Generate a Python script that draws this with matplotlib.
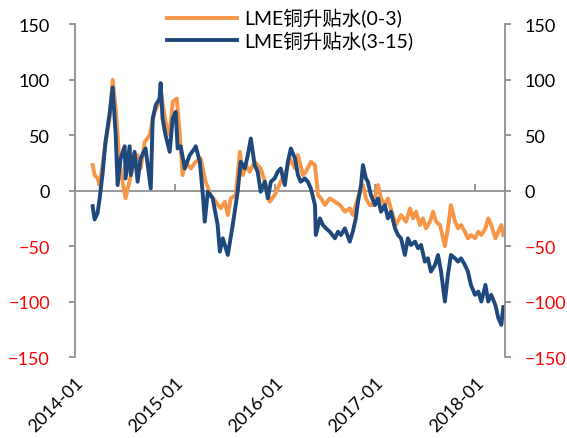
import pandas as pd
import matplotlib
matplotlib.use('Agg')
import matplotlib.pyplot as plt
import matplotlib.dates as mdates

plt.rcParams['font.family'] = ['Lato', 'Noto Sans CJK SC', 'DejaVu Sans']

# LME铜升贴水(0-3)
dates_03 = ['2014-03-07', '2014-03-14', '2014-03-25', '2014-04-01', '2014-04-12', '2014-04-23',
            '2014-05-08', '2014-05-19', '2014-05-30', '2014-06-13', '2014-06-24', '2014-07-05',
            '2014-07-13', '2014-07-31', '2014-08-18', '2014-08-29', '2014-09-13', '2014-10-01',
            '2014-10-19', '2014-11-06', '2014-11-10', '2014-11-28', '2014-12-13', '2014-12-24',
            '2015-01-08', '2015-01-19', '2015-01-29', '2015-02-09', '2015-02-28', '2015-03-18',
            '2015-04-05', '2015-04-23', '2015-05-12', '2015-05-30', '2015-06-17', '2015-07-02',
            '2015-07-13', '2015-07-24', '2015-08-11', '2015-08-26', '2015-09-06', '2015-09-17',
            '2015-10-01', '2015-10-19', '2015-11-10', '2015-11-29', '2015-12-13', '2015-12-31',
            '2016-01-22', '2016-02-10', '2016-02-24', '2016-03-14', '2016-03-25', '2016-04-12',
            '2016-04-23', '2016-05-11', '2016-05-26', '2016-06-06', '2016-06-17', '2016-07-01',
            '2016-07-19', '2016-08-07', '2016-08-25', '2016-09-12', '2016-09-30', '2016-10-11',
            '2016-10-22', '2016-11-06', '2016-11-17', '2016-11-28', '2016-12-12', '2016-12-23',
            '2017-01-11', '2017-01-22', '2017-02-05', '2017-02-16', '2017-03-06', '2017-03-17',
            '2017-04-05', '2017-04-23', '2017-05-08', '2017-05-19', '2017-05-30', '2017-06-13',
            '2017-06-24', '2017-07-05', '2017-07-20', '2017-07-31', '2017-08-11', '2017-08-25',
            '2017-09-12', '2017-09-23', '2017-10-04', '2017-10-19', '2017-10-30', '2017-11-10',
            '2017-11-24', '2017-12-05', '2017-12-16', '2017-12-31', '2018-01-12', '2018-01-23',
            '2018-02-07', '2018-02-17', '2018-02-28', '2018-03-15', '2018-03-26', '2018-04-06',
            '2018-04-13']
vals_03 = [23, 14, 11, 5, 23, 44,
           65, 100, 74, 26, 8, -7,
           2, 20, 32, 20, 44, 50,
           71, 80, 90, 62, 50, 80,
           83, 50, 14, 26, 20, 26,
           29, 8, -4, -10, -16, -10,
           -22, -7, -4, 35, 14, 23,
           17, 26, 20, 5, -10, -4,
           8, 17, 29, 20, 32, 14,
           17, 26, 23, -4, -7, -13,
           -7, -10, -13, -19, -16, -22,
           -13, -1, 5, -7, -13, -13,
           5, -7, -13, -7, -22, -31,
           -22, -28, -16, -25, -19, -31,
           -25, -34, -28, -19, -28, -31,
           -50, -34, -13, -28, -34, -31,
           -37, -43, -40, -43, -37, -40,
           -34, -25, -31, -43, -37, -31,
           -40]

# LME铜升贴水(3-15)
dates_315 = ['2014-03-07', '2014-03-14', '2014-03-25', '2014-04-01', '2014-04-12', '2014-04-23',
             '2014-05-08', '2014-05-19', '2014-05-30', '2014-06-06', '2014-06-17', '2014-07-02',
             '2014-07-05', '2014-07-20', '2014-07-24', '2014-08-07', '2014-08-18', '2014-08-29',
             '2014-09-16', '2014-10-05', '2014-10-12', '2014-10-23', '2014-11-06', '2014-11-10',
             '2014-11-17', '2014-11-28', '2014-12-13', '2014-12-24', '2015-01-04', '2015-01-11',
             '2015-01-22', '2015-02-06', '2015-02-24', '2015-03-14', '2015-03-18', '2015-04-02',
             '2015-04-13', '2015-04-20', '2015-05-01', '2015-05-19', '2015-06-06', '2015-06-14',
             '2015-06-25', '2015-07-13', '2015-07-31', '2015-08-18', '2015-08-29', '2015-09-13',
             '2015-09-24', '2015-10-05', '2015-10-19', '2015-10-30', '2015-11-10', '2015-11-25',
             '2015-12-06', '2015-12-17', '2015-12-31', '2016-01-11', '2016-01-22', '2016-02-06',
             '2016-02-17', '2016-02-28', '2016-03-14', '2016-03-25', '2016-04-04', '2016-04-19',
             '2016-04-30', '2016-05-11', '2016-05-26', '2016-05-29', '2016-06-13', '2016-06-24',
             '2016-07-05', '2016-07-19', '2016-08-07', '2016-08-18', '2016-08-29', '2016-09-12',
             '2016-09-30', '2016-10-11', '2016-10-22', '2016-10-30', '2016-11-10', '2016-11-17',
             '2016-11-28', '2016-12-05', '2016-12-16', '2016-12-31', '2017-01-11', '2017-01-22',
             '2017-02-05', '2017-02-16', '2017-02-27', '2017-03-14', '2017-03-25', '2017-04-05',
             '2017-04-19', '2017-04-30', '2017-05-11', '2017-05-26', '2017-06-06', '2017-06-17',
             '2017-07-01', '2017-07-12', '2017-07-23', '2017-08-07', '2017-08-18', '2017-08-29',
             '2017-09-12', '2017-09-23', '2017-10-04', '2017-10-19', '2017-10-30', '2017-11-10',
             '2017-11-24', '2017-12-05', '2017-12-16', '2017-12-31', '2018-01-12', '2018-01-23',
             '2018-02-07', '2018-02-17', '2018-02-28', '2018-03-15', '2018-03-26', '2018-04-06',
             '2018-04-13']
vals_315 = [-14, -26, -20, -8, 15, 44,
            70, 93, 50, 5, 29, 40,
            11, 40, 14, 35, 8, 29,
            38, 2, 65, 77, 83, 97,
            65, 50, 35, 65, 71, 38,
            40, 20, 32, 38, 40, 26,
            -4, -28, -1, -7, -31, -55,
            -43, -58, -31, -1, 26, 20,
            32, 47, 23, 17, -1, 8,
            -7, 8, 11, 17, 20, 5,
            26, 38, 29, 14, 8, 11,
            8, 2, -13, -40, -25, -31,
            -34, -37, -43, -37, -40, -34,
            -46, -37, -25, -10, 5, 23,
            11, 8, -4, -13, -7, -19,
            -13, -25, -19, -34, -40, -43,
            -58, -43, -49, -46, -52, -49,
            -64, -61, -73, -67, -58, -73,
            -100, -76, -58, -61, -64, -61,
            -67, -73, -85, -94, -91, -100,
            -85, -100, -94, -103, -115, -121,
            -105]

yticks = [-150, -100, -50, 0, 50, 100, 150]
xticks = ['2014-01-01', '2015-01-01', '2016-01-01', '2017-01-01', '2018-01-01']

d03 = pd.to_datetime(dates_03)
d315 = pd.to_datetime(dates_315)
xt = pd.to_datetime(xticks)

fig = plt.figure(figsize=(5.67, 4.39), dpi=100)
ax = fig.add_axes([0.132, 0.1845, 0.759, 0.758])

ax.plot(d03, vals_03, color='#F79646', lw=2.8, label='LME铜升贴水(0-3)')
ax.plot(d315, vals_315, color='#1F497D', lw=2.8, label='LME铜升贴水(3-15)')

ax.set_ylim(-150, 150)
ax.set_xlim(pd.Timestamp('2014-01-01'), pd.Timestamp('2018-04-20'))
ax.set_yticks(yticks)
ax.set_xticks(xt)
ax.xaxis.set_major_formatter(mdates.DateFormatter('%Y-%m'))

grey = '#909090'
for s in ['top', 'bottom']:
    ax.spines[s].set_visible(False)
for s in ['left', 'right']:
    ax.spines[s].set_color(grey)
    ax.spines[s].set_linewidth(1.3)
ax.axhline(0, color=grey, lw=1.3, zorder=0)

ax.tick_params(axis='x', length=0, pad=12, labelsize=13)
plt.setp(ax.get_xticklabels(), rotation=45, ha='right', va='top', rotation_mode='anchor')
ax.tick_params(axis='y', length=4, color=grey, width=1.3, labelsize=13, pad=14)

# small tick marks hanging under the zero line
sec = ax.secondary_xaxis(0.5)
sec.set_xticks(xt)
sec.xaxis.set_ticklabels([])
sec.spines['bottom'].set_visible(False)
sec.spines['top'].set_visible(False)
sec.tick_params(axis='x', length=5, color=grey, width=1.3, direction='out',
                labelbottom=False, labeltop=False)

ax2 = ax.twinx()
ax2.set_ylim(-150, 150)
ax2.set_yticks(yticks)
for s in ['top', 'bottom', 'left', 'right']:
    ax2.spines[s].set_visible(False)
ax2.tick_params(axis='y', length=4, color=grey, width=1.3, labelsize=13, pad=10)

for a in (ax, ax2):
    for lab, v in zip(a.get_yticklabels(), yticks):
        lab.set_color('red' if v < 0 else 'black')

ax.legend(loc='upper center', bbox_to_anchor=(0.5, 1.1), frameon=False,
          fontsize=14, handlelength=3.6, handletextpad=0.4, labelspacing=0.15)

fig.savefig('out.png', dpi=100)
